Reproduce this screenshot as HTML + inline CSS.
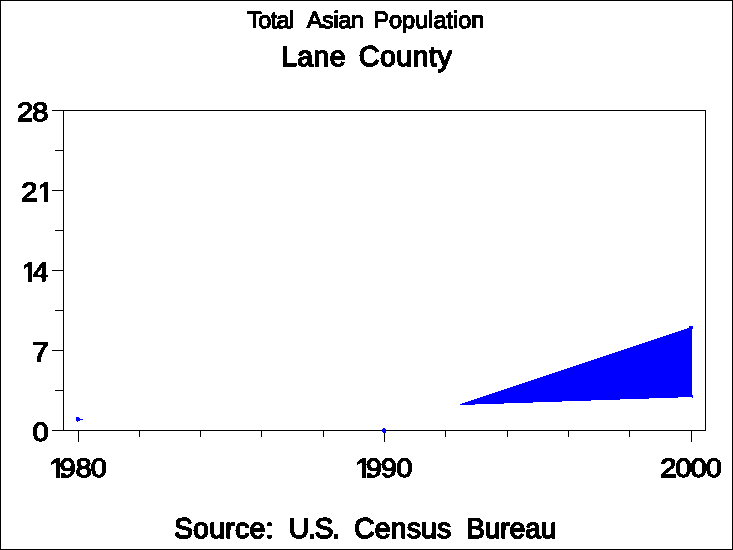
<!DOCTYPE html>
<html><head><meta charset="utf-8">
<style>
html,body{margin:0;padding:0;background:#fff;}
svg{display:block;}
text{font-family:"Liberation Sans",sans-serif;fill:#000;stroke:#000;stroke-linejoin:miter;stroke-miterlimit:3;white-space:pre;text-rendering:geometricPrecision;}
</style></head><body>
<svg width="733" height="550" viewBox="0 0 733 550">
<defs>
<filter id="th" x="0" y="0" width="733" height="550" filterUnits="userSpaceOnUse" color-interpolation-filters="sRGB">
<feComponentTransfer><feFuncA type="discrete" tableValues="0 1"/></feComponentTransfer>
</filter>
<clipPath id="c0"><path clip-rule="evenodd" d="M0 0H733V550H0ZM38.58 198.12H44.17V203.35H38.58ZM48.22 198.12H53.58V203.35H48.22Z"/></clipPath><clipPath id="c1"><path clip-rule="evenodd" d="M0 0H733V550H0ZM22.63 278.12H28.08V283.35H22.63ZM32.02 278.12H37.25V283.35H32.02Z"/></clipPath><clipPath id="c2"><path clip-rule="evenodd" d="M0 0H733V550H0ZM50.18 474.12H55.77V479.35H50.18ZM59.82 474.12H61.00V479.35H59.82Z"/></clipPath><clipPath id="c3"><path clip-rule="evenodd" d="M0 0H733V550H0ZM356.28 474.12H361.87V479.35H356.28ZM365.92 474.12H367.10V479.35H365.92Z"/></clipPath>
</defs>
<rect x="0" y="0" width="733" height="550" fill="#fff"/>
<g shape-rendering="crispEdges">
<rect x="0" y="0" width="733" height="1" fill="#000"/>
<rect x="0" y="0" width="1" height="550" fill="#000"/>
<rect x="732" y="0" width="1" height="550" fill="#000"/>
<rect x="0" y="549" width="733" height="1" fill="#000"/>
</g>
<g stroke="#000" stroke-width="1" fill="none" shape-rendering="crispEdges">
<path d="M52 110.5H705.5V430.5H52"/>
<path d="M63.5 110.5V430.5"/>
<path d="M52 190.5H63.5M52 270.5H63.5M52 350.5H63.5"/>
<path d="M55 150.5H63.5M55 230.5H63.5M55 310.5H63.5M55 390.5H63.5"/>
<path d="M78.5 430.5V442M384.5 430.5V442M691.5 430.5V442"/>
<path d="M139.5 430.5V437M200.5 430.5V437M261.5 430.5V437M323.5 430.5V437M445.5 430.5V437M507.5 430.5V437M568.5 430.5V437M629.5 430.5V437"/>
</g>
<g fill="#0000ff" shape-rendering="crispEdges">
<polygon points="459.6,404.3 692,326.83 692,397.02 459.6,405.03"/>
<rect x="689" y="326" width="4" height="3"/>
<rect x="692" y="395" width="1" height="3"/>
<rect x="76" y="417" width="3" height="4"/>
<rect x="79" y="418" width="1" height="3"/>
<rect x="76" y="419" width="7" height="1"/>
<rect x="77" y="421" width="1" height="1"/>
<rect x="383" y="428" width="2" height="1"/>
<rect x="382" y="429" width="4" height="3"/>
<rect x="383" y="432" width="3" height="1"/>
</g>
<g filter="url(#th)">
<text transform="matrix(1 0 0 1 0 27.5)" font-size="23.5" stroke-width="1.2"><tspan x="247.3" letter-spacing="-0.729">Total </tspan><tspan x="306.8" letter-spacing="-0.36">Asian </tspan><tspan x="373.4" letter-spacing="-0.02">Population</tspan></text>
<text transform="matrix(1 0 0 1 0 66.3)" font-size="28.5" stroke-width="1.5"><tspan x="281" letter-spacing="0.36">Lane </tspan><tspan x="358.8" letter-spacing="0.54">County</tspan></text>
<text transform="matrix(1 0 0 1 0 538)" font-size="28.5" stroke-width="1.5"><tspan x="173.9" letter-spacing="0.21">Source: </tspan><tspan x="288.7" letter-spacing="-1.36">U.S. </tspan><tspan x="354" letter-spacing="0.132">Census </tspan><tspan x="466.1" letter-spacing="-0.3">Bureau</tspan></text>
<g font-size="26.5" stroke-width="1.3">
<text transform="matrix(1.1 0 0 1 0 121.35)" x="15.5 29.41">28</text>
<g clip-path="url(#c0)"><text transform="matrix(1.1 0 0 1 0 201.35)" x="19.23 34.16">21</text></g>
<g clip-path="url(#c1)"><text transform="matrix(1.07 0 0 1 0 281.35)" x="20.25 30.6">14</text></g>
<text transform="matrix(1.15 0 0 1 0 361.35)" x="27.9">7</text>
<text transform="matrix(1.1 0 0 1 0 441.35)" x="29.52">0</text>
<g clip-path="url(#c2)"><text transform="matrix(1.1 0 0 1 0 477.35)" x="44.71 54.14 68.59 82.61">1980</text></g>
<g clip-path="url(#c3)"><text transform="matrix(1.1 0 0 1 0 477.35)" x="322.98 332.41 346.23 360.34">1990</text></g>
<text transform="matrix(1.1 0 0 1 0 477.35)" x="600.23 613.98 627.71 641.52">2000</text>
</g>
</g>
</svg>
</body></html>
